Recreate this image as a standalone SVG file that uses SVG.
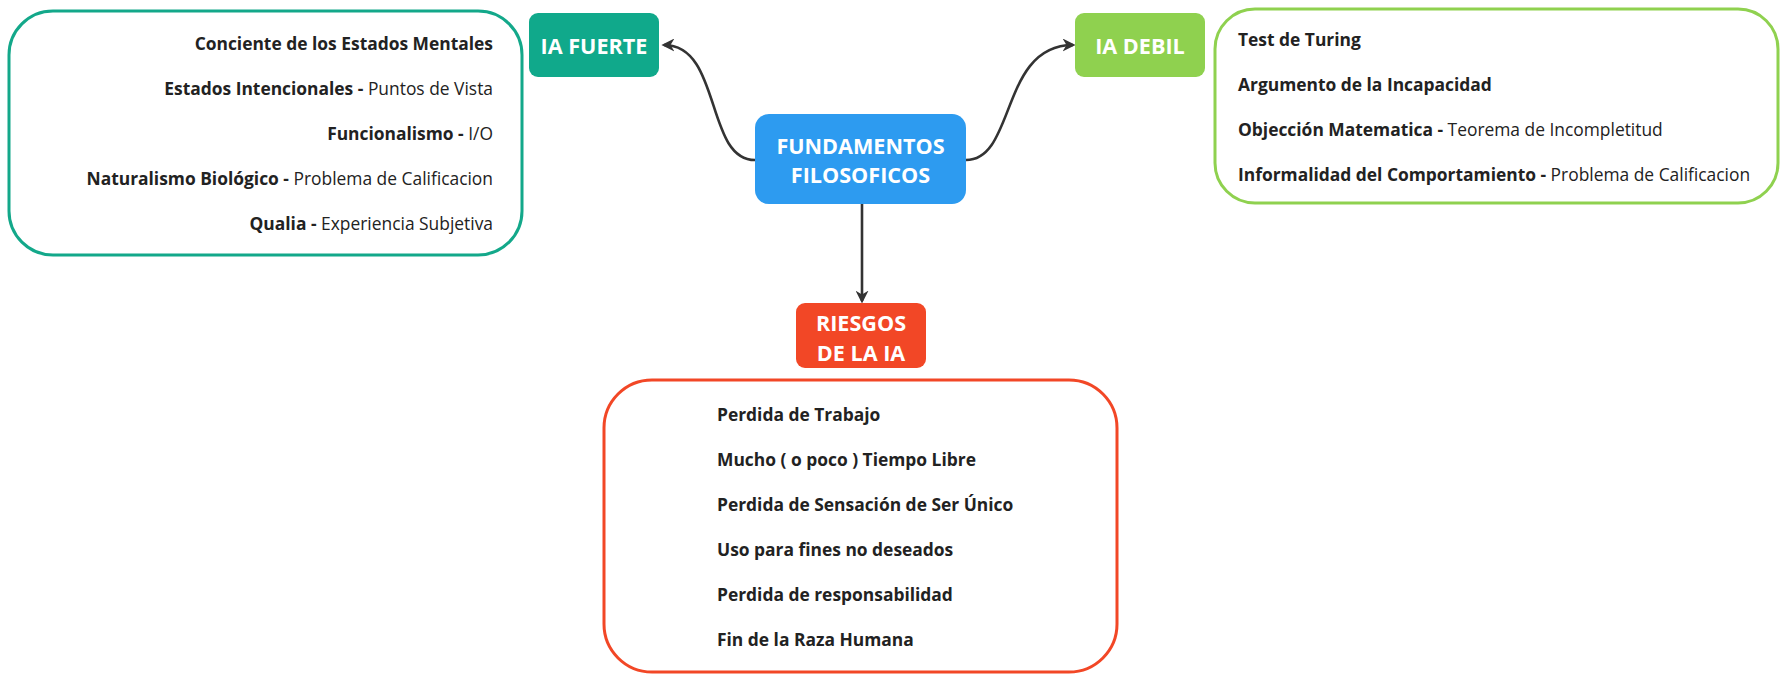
<svg xmlns="http://www.w3.org/2000/svg" width="1791" height="679" viewBox="0 0 1791 679">
<defs>
<marker id="arr" viewBox="0 0 10 10" refX="8" refY="5" markerWidth="5" markerHeight="5" orient="auto" markerUnits="strokeWidth">
<path d="M0,0 L10,5 L0,10 L3,5 Z" fill="#333333"/>
</marker>
<style>
.t{font-family:"Open Sans","Liberation Sans",sans-serif;font-size:21.6px;font-weight:700;fill:#ffffff;text-anchor:middle;dominant-baseline:central}
.i{font-family:"Open Sans","Liberation Sans",sans-serif;font-size:17.4px;fill:#222222;dominant-baseline:central}
.b{font-weight:700}
.n{font-weight:400}
.c{fill:none;stroke:#333333;stroke-width:2.6}
</style>
</defs>
<rect width="1791" height="679" fill="#ffffff"/>
<g id="connectors">
<path class="c" d="M755,160 C705,160 722,45 664,45" marker-end="url(#arr)"/>
<path class="c" d="M966,160 C1016,160 1000,45 1073,45" marker-end="url(#arr)"/>
<path class="c" d="M862,204 L862,301" marker-end="url(#arr)"/>
</g>
<g id="ia-fuerte-list">
<rect x="9" y="11" width="513" height="244" rx="44" fill="#ffffff" stroke="#13a88a" stroke-width="3"/>
<text class="i b" x="493" y="43" text-anchor="end">Conciente de los Estados Mentales</text>
<text class="i" x="493" y="88" text-anchor="end"><tspan class="b">Estados Intencionales - </tspan><tspan class="n">Puntos de Vista</tspan></text>
<text class="i" x="493" y="133" text-anchor="end"><tspan class="b">Funcionalismo - </tspan><tspan class="n">I/O</tspan></text>
<text class="i" x="493" y="178" text-anchor="end"><tspan class="b">Naturalismo Biológico - </tspan><tspan class="n">Problema de Calificacion</tspan></text>
<text class="i" x="493" y="223" text-anchor="end"><tspan class="b">Qualia - </tspan><tspan class="n">Experiencia Subjetiva</tspan></text>
</g>
<g id="ia-fuerte">
<rect x="529" y="13" width="130" height="64" rx="9" fill="#10a98b"/>
<text class="t" x="594" y="45">IA FUERTE</text>
</g>
<g id="fundamentos">
<rect x="755" y="114" width="211" height="90" rx="14" fill="#2d9bf0"/>
<text class="t" x="860.5" y="145">FUNDAMENTOS</text>
<text class="t" x="860.5" y="174">FILOSOFICOS</text>
</g>
<g id="ia-debil">
<rect x="1075" y="13" width="130" height="64" rx="9" fill="#8fd14f"/>
<text class="t" x="1140" y="45">IA DEBIL</text>
</g>
<g id="ia-debil-list">
<rect x="1215" y="9" width="563" height="194" rx="40" fill="#ffffff" stroke="#8fd14f" stroke-width="3"/>
<text class="i b" x="1238" y="39">Test de Turing</text>
<text class="i b" x="1238" y="84">Argumento de la Incapacidad</text>
<text class="i" x="1238" y="129"><tspan class="b">Objección Matematica - </tspan><tspan class="n">Teorema de Incompletitud</tspan></text>
<text class="i" x="1238" y="174"><tspan class="b">Informalidad del Comportamiento - </tspan><tspan class="n">Problema de Calificacion</tspan></text>
</g>
<g id="riesgos">
<rect x="796" y="303" width="130" height="65" rx="9" fill="#f24726"/>
<text class="t" x="861" y="322">RIESGOS</text>
<text class="t" x="861" y="352">DE LA IA</text>
</g>
<g id="riesgos-list">
<rect x="604" y="380" width="513" height="292" rx="48" fill="#ffffff" stroke="#f24726" stroke-width="3"/>
<text class="i b" x="717" y="414">Perdida de Trabajo</text>
<text class="i b" x="717" y="459">Mucho ( o poco ) Tiempo Libre</text>
<text class="i b" x="717" y="504">Perdida de Sensación de Ser Único</text>
<text class="i b" x="717" y="549">Uso para fines no deseados</text>
<text class="i b" x="717" y="594">Perdida de responsabilidad</text>
<text class="i b" x="717" y="639">Fin de la Raza Humana</text>
</g>
</svg>
